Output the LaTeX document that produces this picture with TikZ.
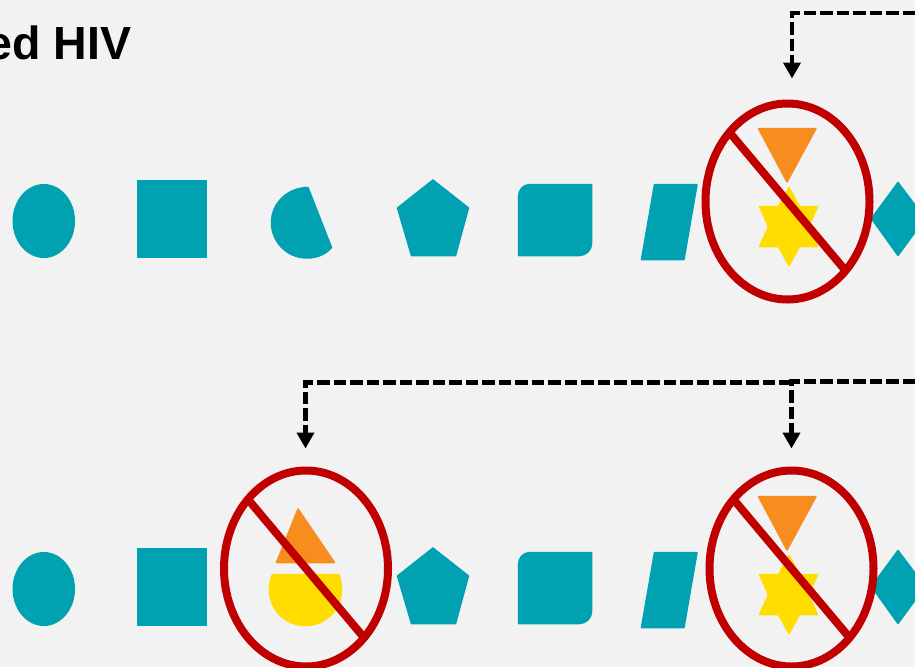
\documentclass[tikz,border=0pt]{standalone}
\usepackage{fontspec}
\setmainfont{Liberation Sans}
\usetikzlibrary{arrows.meta,shapes.geometric}
\definecolor{bgc}{HTML}{F2F2F2}
\definecolor{tealc}{HTML}{00A2B1}
\definecolor{orangec}{HTML}{F78D1E}
\definecolor{yellowc}{HTML}{FFDD00}
\definecolor{redc}{HTML}{C00000}
\tikzset{
  x=1pt,y=-1pt,
  tealshape/.style={fill=tealc,draw=tealc,line width=1.5pt,line join=round},
  orangeshape/.style={fill=orangec,draw=orangec,line width=1.5pt,line join=round},
  yellowshape/.style={fill=yellowc,draw=yellowc,line width=1.5pt,line join=round},
  ban/.style={ellipse,draw=redc,line width=8pt,minimum width=164pt,minimum height=196pt,inner sep=0pt,outer sep=0pt},
  slash/.style={draw=redc,line width=8pt},
  dashconn/.style={draw=black,line width=4.5pt,dash pattern=on 12.5pt off 4pt,-{Triangle[length=16pt,width=17pt]}},
  rowshapes/.pic={
    \node[ellipse,fill=tealc,minimum width=62.5pt,minimum height=74pt,inner sep=0pt] (-oval) at (43.8,221) {};
    \path[tealshape] (137.5,180.5) rectangle (206.5,257.5);
    \path[tealshape] (433,180) -- (468.5,208) -- (455.5,255.5) -- (411.5,255.5) -- (397.5,208) -- cycle;
    \path[tealshape] (530,184.5) -- (591.5,184.5) -- (591.5,243) .. controls (591.5,250.5) and (586,255.5) .. (579,255.5)
       -- (518.5,255.5) -- (518.5,197) .. controls (518.5,190) and (523,184.5) .. (530,184.5) -- cycle;
    \path[tealshape] (654.5,184.5) -- (697,184.5) -- (684,259.5) -- (641.5,259.5) -- cycle;
    \path[tealshape] (898,182.5) -- (925,218.5) -- (898,255.5) -- (871.5,218.5) -- cycle;
  },
  downtri/.pic={
    \path[orangeshape] (758.5,128.5) -- (816,128.5) -- (787,182) -- cycle;
  },
  sixstar/.pic={
    \path[yellowshape] (789,187.5) -- (799.5,206.5) -- (817.5,206.5) -- (808.5,227) -- (817.5,246.5) -- (799.5,246.5)
      -- (789,265.5) -- (778.5,246.5) -- (759.5,246.5) -- (768.5,227) -- (759.5,206.5) -- (778.5,206.5) -- cycle;
  }
}
\begin{document}
\begin{tikzpicture}
\useasboundingbox (0,0) rectangle (915,667);
\clip (0,0) rectangle (915,667);
\fill[bgc] (0,0) rectangle (915,667);
\node[anchor=base east,inner sep=0pt,font=\bfseries\fontsize{46.5pt}{50pt}\selectfont] (title) at (131.5,59.5) {ed HIV};

\pic (rowa) at (0,0) {rowshapes};
\pic (rowb) at (0,368) {rowshapes};

% third shape of the top row
\path[tealshape] (308,187.5) .. controls (288,187.5) and (271.5,203) .. (271.5,222.5)
  .. controls (271.5,242) and (287,258) .. (307,258) .. controls (316.5,258) and (325.8,254.5) .. (331.5,247.5) -- cycle;

% top-right crossed group
\pic at (0,0) {downtri};
\pic at (0,0) {sixstar};
\node[ban] (bana) at (787.5,201.5) {};
\draw[slash] (bana.130) -- (bana.-50);

% bottom-left crossed group
\path[orangeshape] (298,509) -- (334.5,562.5) -- (276.5,562.5) -- cycle;
\path[yellowshape] (272.5,574.5) -- (338.5,574.5) .. controls (340.5,579) and (341.5,584.5) .. (341.5,589.5)
  .. controls (341.5,610) and (325,625.5) .. (305.5,625.5) .. controls (285.5,625.5) and (269.5,610) .. (269.5,589.5)
  .. controls (269.5,584.5) and (270.5,579) .. (272.5,574.5) -- cycle;
\node[ban] (banb) at (306,568.5) {};
\draw[slash] (banb.130) -- (banb.-50);

% bottom-right crossed group
\pic at (0,368) {downtri};
\pic at (0,368) {sixstar};
\node[ban] (banc) at (791.5,568.5) {};
\draw[slash] (banc.130) -- (banc.-50);

% connectors
\coordinate (aoff) at (915,13);
\coordinate (aend) at (792,78.5);
\coordinate (boff) at (915,381.5);
\coordinate (cjoin) at (791.5,382.5);
\coordinate (bend) at (305.5,448.5);
\coordinate (cend) at (791.5,448.5);
\draw[dashconn] (aoff) -| (aend);
\draw[dashconn] (boff) -| (cend);
\draw[dashconn] (cjoin) -| (bend);
\end{tikzpicture}
\end{document}
